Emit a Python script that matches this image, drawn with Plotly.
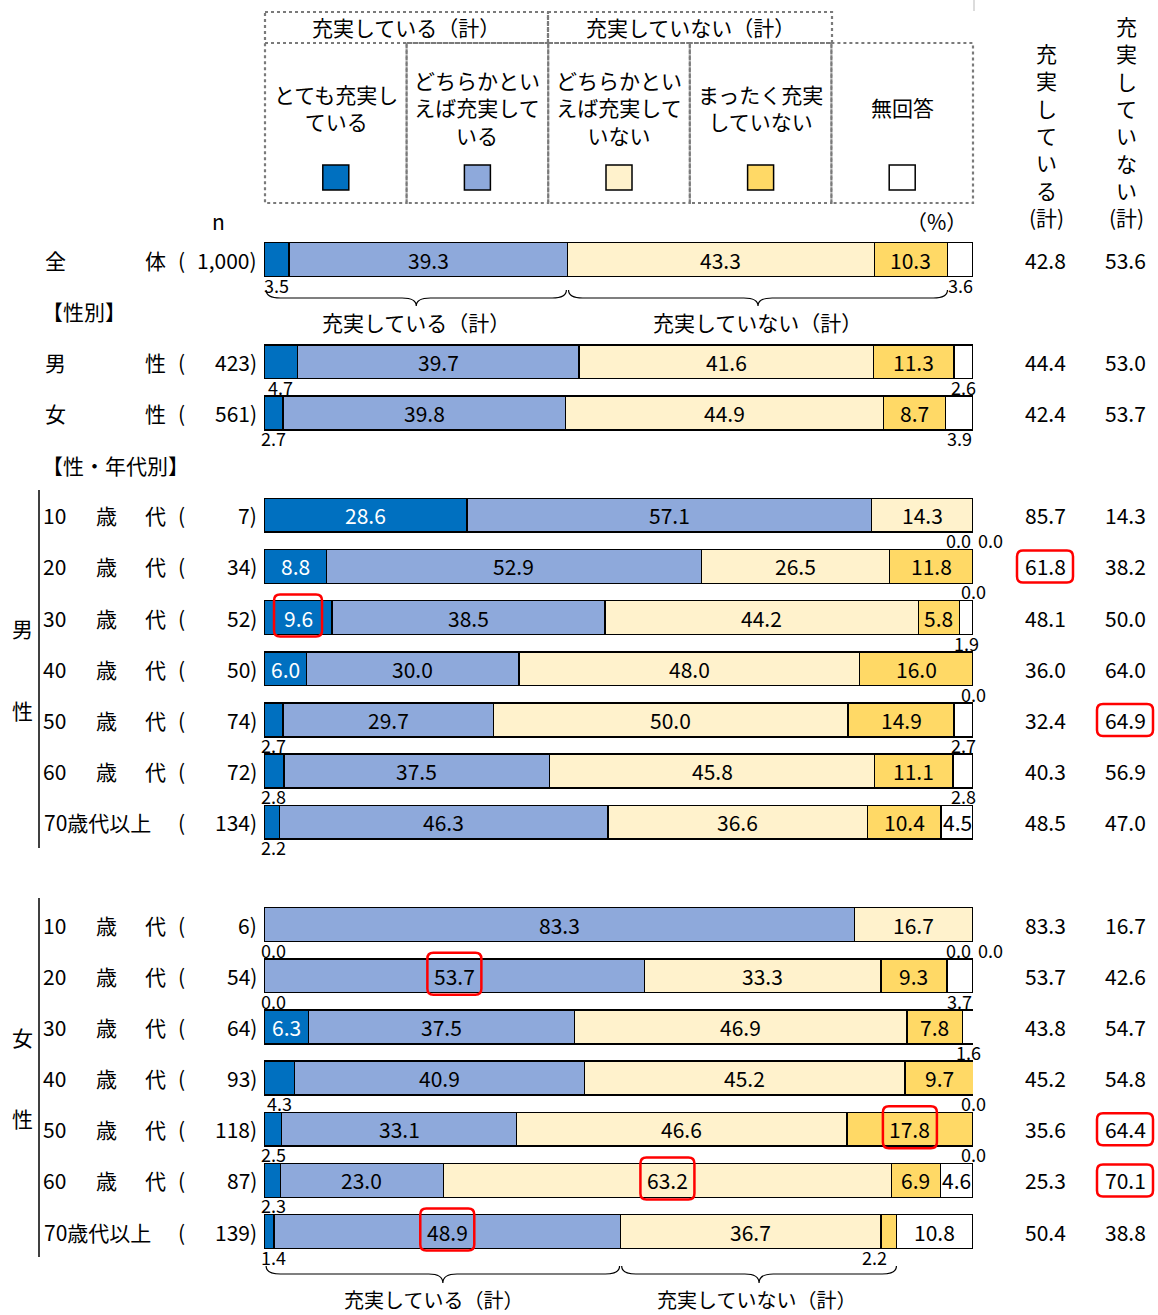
import plotly.graph_objects as go

W, H = 1158, 1315
FONT = "Noto Sans CJK JP"

# ---------------- data ----------------
categories = ["とても充実している", "どちらかといえば充実している",
              "どちらかといえば充実していない", "まったく充実していない", "無回答"]
legend_text = ["とても充実し<br>ている", "どちらかとい<br>えば充実して<br>いる",
               "どちらかとい<br>えば充実して<br>いない", "まったく充実<br>していない", "無回答"]
colors = ["#0070C0", "#8EA9DB", "#FFF2CC", "#FFD966", "#FFFFFF"]

row_names = ["全体", "男性", "女性",
             "10歳代", "20歳代", "30歳代", "40歳代", "50歳代", "60歳代", "70歳代以上",
             "10歳代", "20歳代", "30歳代", "40歳代", "50歳代", "60歳代", "70歳代以上"]
row_n = [1000, 423, 561, 7, 34, 52, 50, 74, 72, 134, 6, 54, 64, 93, 118, 87, 139]
v_very = [3.5, 4.7, 2.7, 28.6, 8.8, 9.6, 6.0, 2.7, 2.8, 2.2, 0.0, 0.0, 6.3, 4.3, 2.5, 2.3, 1.4]
v_some = [39.3, 39.7, 39.8, 57.1, 52.9, 38.5, 30.0, 29.7, 37.5, 46.3, 83.3, 53.7, 37.5, 40.9, 33.1, 23.0, 48.9]
v_notmuch = [43.3, 41.6, 44.9, 14.3, 26.5, 44.2, 48.0, 50.0, 45.8, 36.6, 16.7, 33.3, 46.9, 45.2, 46.6, 63.2, 36.7]
v_notatall = [10.3, 11.3, 8.7, 0.0, 11.8, 5.8, 16.0, 14.9, 11.1, 10.4, 0.0, 9.3, 7.8, 9.7, 17.8, 6.9, 2.2]
v_na = [3.6, 2.6, 3.9, 0.0, 0.0, 1.9, 0.0, 2.7, 2.8, 4.5, 0.0, 3.7, 1.6, 0.0, 0.0, 4.6, 10.8]
tot_yes = [42.8, 44.4, 42.4, 85.7, 61.8, 48.1, 36.0, 32.4, 40.3, 48.5, 83.3, 53.7, 43.8, 45.2, 35.6, 25.3, 50.4]
tot_no = [53.6, 53.0, 53.7, 14.3, 38.2, 50.0, 64.0, 64.9, 56.9, 47.0, 16.7, 42.6, 54.7, 54.8, 64.4, 70.1, 38.8]

# highlighted cells: (row index, column) ; column 0-4 = segment, "yes"/"no" = totals
highlights = [(4, "yes"), (5, 0), (7, "no"), (11, 1), (14, 3), (14, "no"),
              (15, 2), (15, "no"), (16, 1)]

# ---------------- layout helpers ----------------
row_slots = [0, 2, 3, 5, 6, 7, 8, 9, 10, 11, 13, 14, 15, 16, 17, 18, 19]
X0, X1 = 264, 973          # pixel extent of 0..100 %
Y0, DY = 259.5, 51.16      # pixel centre of slot 0, pixel per slot


def slot_of(py):
    return (py - Y0) / DY


def xp(px):
    return px / W


def yp(py):
    return 1 - py / H


def pct_paper(p):
    # same linear map as the x axis (domain X0..X1, range 0..100)
    return (X0 + (X1 - X0) * p / 100) / W


values = [v_very, v_some, v_notmuch, v_notatall, v_na]

fig = go.Figure()
for k, arr in enumerate(values):
    fig.add_trace(go.Bar(
        x=arr, y=row_slots, orientation="h", name=categories[k],
        marker=dict(color=colors[k], line=dict(color="black", width=1.5)),
        width=0.66, hoverinfo="skip"))

ann = []
shapes = []


def text(x, y, s, size=21, xref="paper", yref="paper", xanchor="center",
         yanchor="middle", color="black", align="center"):
    ann.append(dict(x=x, y=y, xref=xref, yref=yref, text=s, showarrow=False,
                    xanchor=xanchor, yanchor=yanchor, align=align,
                    font=dict(family=FONT, size=size, color=color)))


def rrect_pixel(xref, xanchor, yref, yanchor, w, h, r=6):
    hw, hh = w / 2, h / 2
    path = (f"M {-hw + r},{-hh} L {hw - r},{-hh} Q {hw},{-hh} {hw},{-hh + r} "
            f"L {hw},{hh - r} Q {hw},{hh} {hw - r},{hh} L {-hw + r},{hh} "
            f"Q {-hw},{hh} {-hw},{hh - r} L {-hw},{-hh + r} Q {-hw},{-hh} {-hw + r},{-hh} Z")
    shapes.append(dict(type="path", path=path, xref=xref, yref=yref,
                       xsizemode="pixel", ysizemode="pixel",
                       xanchor=xanchor, yanchor=yanchor,
                       line=dict(color="#FF0000", width=2.5), layer="above"))


# ---------------- bar labels ----------------
below = 25 / DY
for i, s in enumerate(row_slots):
    start = 0.0
    centers = []
    outside = []
    for k, arr in enumerate(values):
        v = arr[i]
        centers.append(start + v / 2)
        outside.append(not (v >= 5 or (k == 4 and v >= 4.5)))
        start += v
    for k, arr in enumerate(values):
        v = arr[i]
        lab = f"{v:.1f}"
        if not outside[k]:
            text(centers[k], s, lab, size=21, xref="x", yref="y",
                 color="white" if k == 0 else "black")
        else:
            if k == 0:
                cx = max(centers[k], 1.4)
            elif k == 3:
                cx = centers[k] - 2.0
            elif k == 4:
                cx = centers[k] + (2.4 if outside[3] else 0.0)
            else:
                cx = centers[k]
            text(pct_paper(cx), s + below, lab, size=18, yref="y")
    # totals
    text(xp(1045), s, f"{tot_yes[i]:.1f}", size=21, yref="y")
    text(xp(1125), s, f"{tot_no[i]:.1f}", size=21, yref="y")

# highlights
for i, c in highlights:
    s = row_slots[i]
    if c == "yes":
        rrect_pixel("paper", xp(1045), "y", s, 56, 32)
    elif c == "no":
        rrect_pixel("paper", xp(1125), "y", s, 56, 32)
    else:
        start = sum(values[k][i] for k in range(c))
        w = 48 if c == 0 else 54
        rrect_pixel("x", start + values[c][i] / 2, "y", s - 2 / DY, w, 42)

# ---------------- row labels ----------------
for i, s in enumerate(row_slots):
    name = row_names[i]
    if len(name) == 2:
        text(xp(55), s, name[0], yref="y")
        text(xp(155), s, name[1], yref="y")
    elif name.endswith("以上"):
        text(xp(42), s, name, yref="y", xanchor="left")
    else:
        text(xp(54), s, name[:2], size=21, yref="y")
        text(xp(106), s, name[2], yref="y")
        text(xp(155), s, name[3], yref="y")
    text(xp(181), s, "(", size=21, yref="y")
    text(xp(259), s, f"{row_n[i]:,})", size=21, yref="y", xanchor="right")

text(xp(40), slot_of(311), "【性別】", yref="y", xanchor="left")
text(xp(40), slot_of(465), "【性・年代別】", yref="y", xanchor="left")
text(xp(22), yp(628), "男")
text(xp(22), yp(710), "性")
text(xp(22), yp(1037), "女")
text(xp(22), yp(1118), "性")
for ya, yb in [(490, 848), (898, 1257)]:
    shapes.append(dict(type="line", xref="paper", yref="paper", x0=xp(39), x1=xp(39),
                       y0=yp(ya), y1=yp(yb), line=dict(color="black", width=1.5)))

# ---------------- braces ----------------
def brace(xa, xb, ytop, ymid, ytip, d=2.0):
    xm = (xa + xb) / 2
    y0, y1, y2 = slot_of(ytop), slot_of(ymid), slot_of(ytip)
    path = (f"M {xa},{y0} Q {xa},{y1} {xa + d},{y1} L {xm - d},{y1} "
            f"Q {xm},{y1} {xm},{y2} Q {xm},{y1} {xm + d},{y1} "
            f"L {xb - d},{y1} Q {xb},{y1} {xb},{y0}")
    shapes.append(dict(type="path", path=path, xref="x", yref="y",
                       line=dict(color="black", width=1.2), layer="above"))


first, last = 0, len(row_slots) - 1
a0 = v_very[first] + v_some[first]
b0 = a0 + v_notmuch[first] + v_notatall[first]
brace(0.3, a0 - 0.15, 290, 298, 306)
brace(a0 + 0.15, b0, 290, 298, 306)
text((0 + a0) / 2, slot_of(322), "充実している（計）", xref="x", yref="y")
text((a0 + b0) / 2, slot_of(322), "充実していない（計）", xref="x", yref="y")

a1 = v_very[last] + v_some[last]
b1 = a1 + v_notmuch[last] + v_notatall[last]
brace(0.3, a1 - 0.15, 1266, 1274, 1283)
brace(a1 + 0.15, b1, 1266, 1274, 1283)
text((0 + a1) / 2 - 1.2, slot_of(1299), "充実している（計）", size=20, xref="x", yref="y")
text((a1 + b1) / 2 - 0.3, slot_of(1299), "充実していない（計）", size=20, xref="x", yref="y")

# ---------------- legend table ----------------
border = dict(color="#7a7a7a", width=2.2, dash="dot")
for xa, xb in [(265, 548), (548, 832)]:
    shapes.append(dict(type="rect", xref="paper", yref="paper", x0=xp(xa), x1=xp(xb),
                       y0=yp(12), y1=yp(43), line=border))
text(xp(406), yp(27), "充実している（計）")
text(xp(690), yp(27), "充実していない（計）")
cw = (973 - 265) / 5
for k in range(5):
    xa = 265 + cw * k
    xb = xa + cw
    shapes.append(dict(type="rect", xref="paper", yref="paper", x0=xp(xa), x1=xp(xb),
                       y0=yp(43), y1=yp(203), line=border))
    cx = (xa + xb) / 2
    text(xp(cx), yp(107), legend_text[k])
    shapes.append(dict(type="rect", xref="paper", yref="paper",
                       x0=xp(cx - 13), x1=xp(cx + 13), y0=yp(165), y1=yp(190),
                       fillcolor=colors[k], line=dict(color="black", width=1.5)))

text(xp(218), yp(221), "n")
text(xp(936), yp(221), "（%）")
text(xp(1046), yp(234), "充<br>実<br>し<br>て<br>い<br>る<br>(計)", yanchor="bottom")
text(xp(1126), yp(234), "充<br>実<br>し<br>て<br>い<br>な<br>い<br>(計)", yanchor="bottom")
shapes.append(dict(type="line", xref="paper", yref="paper", x0=xp(974), x1=xp(974),
                   y0=yp(0), y1=yp(11), line=dict(color="#d0d0d0", width=1.5)))

fig.update_layout(
    width=W, height=H, margin=dict(l=0, r=0, t=0, b=0),
    paper_bgcolor="white", plot_bgcolor="white",
    barmode="stack", showlegend=False,
    font=dict(family=FONT, size=20, color="black"),
    xaxis=dict(domain=[X0 / W, X1 / W], range=[0, 100], visible=False, fixedrange=True),
    yaxis=dict(domain=[0, 1], range=[slot_of(H), slot_of(0)], visible=False, fixedrange=True),
    annotations=ann, shapes=shapes,
)

fig.write_html(
    "out.html",
    config={"displayModeBar": False},
    post_script="document.body.style.margin='0';document.body.style.overflow='hidden';",
)
